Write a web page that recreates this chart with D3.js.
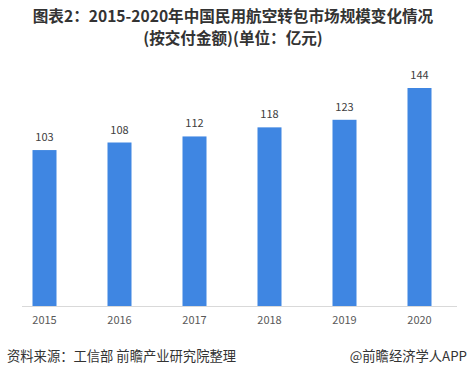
<!DOCTYPE html>
<html><head><meta charset="utf-8">
<script src="https://cdn.jsdelivr.net/npm/d3@7/dist/d3.min.js"></script>
<style>body{margin:0;background:#fff;}svg{display:block;}</style>
</head><body>
<svg id="c" width="468" height="378"></svg>
<script>
const years = ["2015","2016","2017","2018","2019","2020"];
const values = [103,108,112,118,123,144];
const titleLines = ["图表2：2015-2020年中国民用航空转包市场规模变化情况","(按交付金额)(单位：亿元)"];
const source = "资料来源：工信部 前瞻产业研究院整理";
const brand = "@前瞻经济学人APP";

const svg = d3.select("#c");
const font = "'Microsoft YaHei','Noto Sans CJK SC',sans-serif";
const x = d3.scaleBand().domain(years).range([7, 457]).paddingInner(0.68).paddingOuter(0.34);
const y = d3.scaleLinear().domain([0,144]).range([306, 88]);

svg.append("g").selectAll("text").data(titleLines).join("text")
  .attr("x", 233).attr("y", (d,i)=>22+i*21.5).attr("text-anchor","middle")
  .attr("font-family", font).attr("font-weight","bold").attr("font-size",15.6).attr("fill","#333")
  .text(d=>d);

svg.append("g").selectAll("rect").data(values).join("rect")
  .attr("x",(d,i)=>x(years[i])).attr("width",x.bandwidth())
  .attr("y",d=>y(d)).attr("height",d=>y(0)-y(d)).attr("fill","#3f86e2");

svg.append("g").selectAll("text").data(values).join("text")
  .attr("x",(d,i)=>x(years[i])+x.bandwidth()/2).attr("y",d=>y(d)-9)
  .attr("text-anchor","middle").attr("font-family",font).attr("font-size",11).attr("fill","#404040")
  .text(d=>d);

const ax = svg.append("g").attr("transform","translate(0,306)")
  .call(d3.axisBottom(x).tickSize(0).tickPadding(10));
ax.select(".domain").attr("stroke","#d9d9d9").attr("d","M22,0.5H457");
ax.selectAll("text").attr("font-family",font).attr("font-size",11).attr("fill","#595959");

svg.append("text").attr("x",7).attr("y",361).attr("font-family",font).attr("font-size",13.3)
  .attr("fill","#333").text(source);
svg.append("text").attr("x",467).attr("y",361).attr("text-anchor","end").attr("font-family",font).attr("font-size",13.3)
  .attr("fill","#333").text(brand);
</script>
</body></html>
